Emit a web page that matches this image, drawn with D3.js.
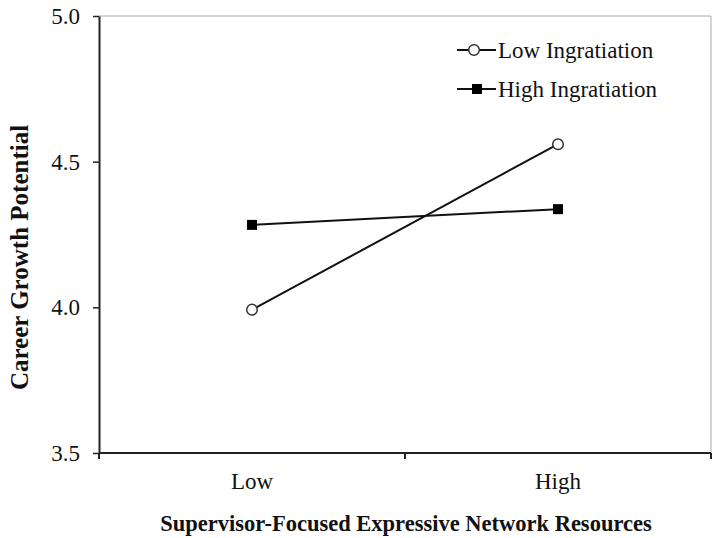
<!DOCTYPE html>
<html>
<head>
<meta charset="utf-8">
<script src="https://cdn.jsdelivr.net/npm/d3@7"></script>
<style>
body { margin: 0; background: #fff; }
text { font-family: "Liberation Serif", "Times New Roman", serif; fill: #111; }
</style>
</head>
<body>
<div class="chart"></div>
<script>
// data
var categories = ["Low", "High"];
var seriesNames = ["Low Ingratiation", "High Ingratiation"];
var lowIngratiation = [3.992, 4.56];
var highIngratiation = [4.283, 4.337];
var yTicks = [3.5, 4.0, 4.5, 5.0];

var width = 713, height = 538;
var plotLeft = 99, plotRight = 711, plotTop = 16, plotBottom = 453;

var svg = d3.select(".chart").append("svg")
    .attr("width", width)
    .attr("height", height);

var x = d3.scaleBand().domain(categories).range([plotLeft, plotRight]);
var y = d3.scaleLinear().domain([3.5, 5.0]).range([plotBottom, plotTop]);

// light frame on top and right
svg.append("line").attr("x1", plotLeft).attr("x2", plotRight).attr("y1", plotTop).attr("y2", plotTop)
    .style("stroke", "#aaa").style("stroke-width", "1px");
svg.append("line").attr("x1", plotRight).attr("x2", plotRight).attr("y1", plotTop).attr("y2", plotBottom)
    .style("stroke", "#aaa").style("stroke-width", "1px");

// y axis
var yAxis = d3.axisLeft(y).tickValues(yTicks).tickFormat(d3.format(".1f"))
    .tickSizeInner(6).tickSizeOuter(0).tickPadding(13);
var gy = svg.append("g").attr("transform", "translate(" + plotLeft + ",0)").call(yAxis);
gy.attr("font-family", null);
gy.selectAll("text")
    .style("font-family", "'Liberation Serif', serif")
    .style("font-size", "23px");
gy.select(".domain").style("stroke", "#222").style("stroke-width", "2px");
gy.selectAll(".tick line").style("stroke", "#222").style("stroke-width", "1.5px");

// x axis: ticks sit on category boundaries
var gx = svg.append("g").attr("transform", "translate(0," + plotBottom + ")");
gx.append("line").attr("x1", plotLeft).attr("x2", plotRight)
    .style("stroke", "#222").style("stroke-width", "2px");
var bounds = [x.range()[0], x("High"), x.range()[1]];
gx.selectAll("line.tk").data(bounds).enter().append("line")
    .attr("class", "tk")
    .attr("x1", function(d) { return d; }).attr("x2", function(d) { return d; })
    .attr("y1", 0).attr("y2", 6)
    .style("stroke", "#222").style("stroke-width", "2px");
gx.selectAll("text").data(categories).enter().append("text")
    .attr("x", function(d) { return x(d) + x.bandwidth() / 2; })
    .attr("y", 36)
    .attr("text-anchor", "middle")
    .style("font-size", "23px")
    .text(function(d) { return d; });

// axis titles
svg.append("text")
    .attr("transform", "translate(28," + ((plotTop + plotBottom) / 2 + 23) + ") rotate(-90)")
    .attr("text-anchor", "middle")
    .style("font-size", "25px").style("font-weight", "bold")
    .text("Career Growth Potential");
svg.append("text")
    .attr("x", 406).attr("y", 531)
    .attr("text-anchor", "middle")
    .style("font-size", "22.5px").style("font-weight", "bold")
    .text("Supervisor-Focused Expressive Network Resources");

// lines and markers
var cx = function(d, i) { return x(categories[i]) + x.bandwidth() / 2; };
var line = d3.line().x(cx).y(function(d) { return y(d); });

svg.append("path").datum(lowIngratiation).attr("d", line)
    .style("fill", "none").style("stroke", "#111").style("stroke-width", "2px");
svg.append("path").datum(highIngratiation).attr("d", line)
    .style("fill", "none").style("stroke", "#111").style("stroke-width", "2px");

svg.selectAll("circle.pt").data(lowIngratiation).enter().append("circle")
    .attr("class", "pt")
    .attr("cx", cx).attr("cy", function(d) { return y(d); })
    .attr("r", 5.3)
    .style("fill", "#fff").style("stroke", "#333").style("stroke-width", "1.5px");
svg.selectAll("rect.pt").data(highIngratiation).enter().append("rect")
    .attr("class", "pt")
    .attr("x", function(d, i) { return cx(d, i) - 5; })
    .attr("y", function(d) { return y(d) - 5; })
    .attr("width", 10).attr("height", 10)
    .style("fill", "#000");

// legend
var leg = svg.append("g");
var legY = [50, 89];
seriesNames.forEach(function(name, i) {
    var yy = legY[i];
    leg.append("line").attr("x1", 457).attr("x2", 496).attr("y1", yy).attr("y2", yy)
        .style("stroke", "#111").style("stroke-width", "2px");
    if (i == 0) {
        leg.append("circle").attr("cx", 474).attr("cy", yy).attr("r", 5.3)
            .style("fill", "#fff").style("stroke", "#333").style("stroke-width", "1.5px");
    } else {
        leg.append("rect").attr("x", 472).attr("y", yy - 5).attr("width", 10).attr("height", 10)
            .style("fill", "#000");
    }
    leg.append("text").attr("x", 498).attr("y", yy + 7.5)
        .style("font-size", "23px")
        .text(name);
});
</script>
</body>
</html>
